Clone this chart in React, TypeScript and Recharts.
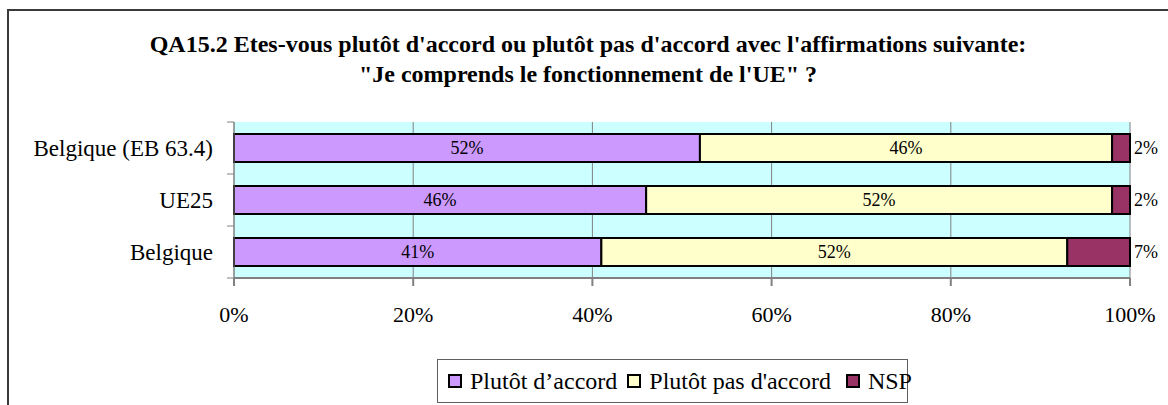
import React from 'react';
import { BarChart, Bar, XAxis, YAxis, CartesianGrid, LabelList, Legend } from 'recharts';

const categories = ['Belgique (EB 63.4)', 'UE25', 'Belgique '];
const accord = [52, 46, 41];
const pasAccord = [46, 52, 52];
const nsp = [2, 2, 7];
const xTicks = [0, 20, 40, 60, 80, 100];

const seriesNames = ['Plutôt d’accord', "Plutôt pas d'accord", 'NSP'];
const colors = ['#CC99FF', '#FFFFCC', '#993366'];
const legendItemGaps = [10, 15, 0];

const data = categories.map((name, i) => ({
  name,
  accord: accord[i],
  pasAccord: pasAccord[i],
  nsp: nsp[i],
}));

const FONT = '"Liberation Serif", "Times New Roman", serif';

const YTick = (props: any) => {
  const { x, y, payload, index } = props;
  const off = payload && typeof payload.offset === 'number' ? payload.offset : 26;
  return (
    <g>
      <line x1={x - 7} x2={x} y1={y - off} y2={y - off} stroke="#808080" strokeWidth={1} />
      {index === categories.length - 1 && (
        <line x1={x - 7} x2={x} y1={y + off} y2={y + off} stroke="#808080" strokeWidth={1} />
      )}
      <text x={x - 21} y={y} dy="0.35em" textAnchor="end" fontFamily={FONT} fontSize={23} fill="#000">
        {payload.value}
      </text>
    </g>
  );
};

const LegendContent = () => (
  <div
    style={{
      boxSizing: 'border-box',
      width: 471,
      height: 44,
      border: '1px solid #606060',
      background: '#fff',
      display: 'flex',
      alignItems: 'center',
      paddingLeft: 10,
      fontFamily: FONT,
      fontSize: 24,
      color: '#000',
      whiteSpace: 'nowrap',
    }}
  >
    {seriesNames.map((n, i) => (
      <span key={n} style={{ display: 'inline-flex', alignItems: 'center', marginRight: legendItemGaps[i] }}>
        <span
          style={{
            display: 'inline-block',
            width: 14,
            height: 14,
            boxSizing: 'border-box',
            border: '2px solid #000',
            background: colors[i],
            marginRight: 8,
          }}
        />
        {n}
      </span>
    ))}
  </div>
);

export default function App() {
  return (
    <div style={{ position: 'absolute', left: 0, top: 0, width: 1168, height: 405, overflow: 'hidden', background: '#fff' }}>
      <div
        style={{
          position: 'absolute',
          left: 7,
          top: 9,
          width: 1300,
          height: 500,
          border: '2px solid #3a3a3a',
        }}
      />
      <div
        style={{
          position: 'absolute',
          left: 0,
          top: 29,
          width: 1176,
          textAlign: 'center',
          fontFamily: FONT,
          fontWeight: 'bold',
          fontSize: 24,
          lineHeight: '30px',
          color: '#000',
        }}
      >
        <div>QA15.2 Etes-vous plutôt d'accord ou plutôt pas d'accord avec l'affirmations suivante:</div>
        <div>"Je comprends le fonctionnement de l'UE" ?</div>
      </div>
      <div style={{ position: 'absolute', left: 0, top: 0 }}>
        <BarChart
          width={1168}
          height={405}
          data={data}
          layout="vertical"
          margin={{ top: 122, right: 38, bottom: 67, left: 8 }}
          barCategoryGap="23%"
        >
          <CartesianGrid horizontal={false} vertical={true} stroke="#808080" fill="#CCFFFF" />
          <XAxis
            type="number"
            domain={[0, 100]}
            ticks={xTicks}
            tickFormatter={(v: number) => `${v}%`}
            height={60}
            axisLine={{ stroke: '#808080', strokeWidth: 2 }}
            tickLine={{ stroke: '#808080', strokeWidth: 2 }}
            tickSize={8}
            tickMargin={20}
            tick={{ fontFamily: FONT, fontSize: 22, fill: '#000' }}
            interval={0}
          />
          <YAxis
            type="category"
            dataKey="name"
            width={226}
            axisLine={{ stroke: '#808080', strokeWidth: 1 }}
            tickLine={false}
            tickSize={0}
            tickMargin={0}
            tick={<YTick />}
            interval={0}
          />
          <Legend
            layout="horizontal"
            verticalAlign="middle"
            align="center"
            content={<LegendContent />}
            wrapperStyle={{ left: 437, top: 359, width: 471, height: 44 }}
          />
          <Bar dataKey="accord" stackId="s" fill={colors[0]} stroke="#000" strokeWidth={2} isAnimationActive={false}>
            <LabelList
              dataKey="accord"
              position="center"
              formatter={(v: any) => `${v}%`}
              style={{ fontFamily: FONT, fontSize: 18, fill: '#000' }}
            />
          </Bar>
          <Bar dataKey="pasAccord" stackId="s" fill={colors[1]} stroke="#000" strokeWidth={2} isAnimationActive={false}>
            <LabelList
              dataKey="pasAccord"
              position="center"
              formatter={(v: any) => `${v}%`}
              style={{ fontFamily: FONT, fontSize: 18, fill: '#000' }}
            />
          </Bar>
          <Bar dataKey="nsp" stackId="s" fill={colors[2]} stroke="#000" strokeWidth={2} isAnimationActive={false}>
            <LabelList
              dataKey="nsp"
              position="right"
              offset={4}
              formatter={(v: any) => `${v}%`}
              style={{ fontFamily: FONT, fontSize: 18, fill: '#000' }}
            />
          </Bar>
        </BarChart>
      </div>
    </div>
  );
}
